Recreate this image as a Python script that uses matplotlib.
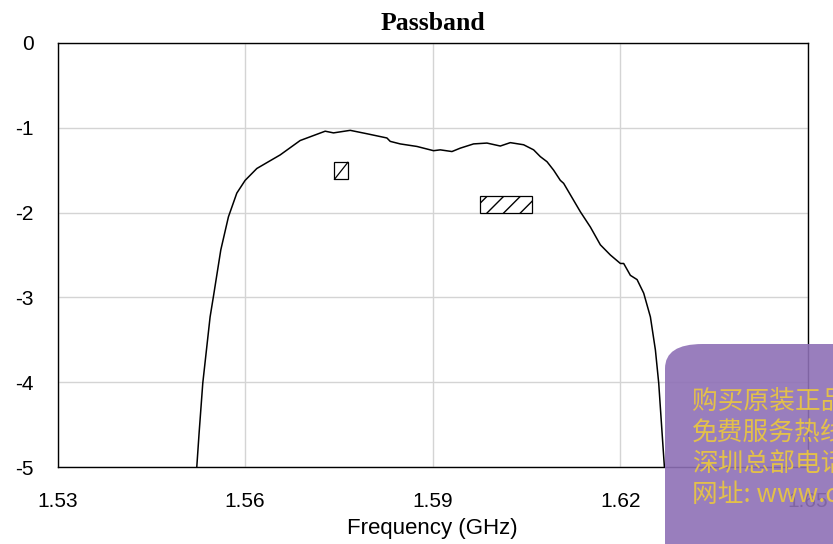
import matplotlib
matplotlib.use("Agg")
import matplotlib.pyplot as plt
from matplotlib.patches import Rectangle, FancyBboxPatch

# Measured passband response
freq_ghz = [1.55227, 1.55264, 1.55323, 1.5544, 1.55493, 1.55611, 1.55733, 1.55867,
            1.5600, 1.56187, 1.56373, 1.5656, 1.5688, 1.5728, 1.57413, 1.5768,
            1.57947, 1.58267, 1.5832, 1.5848, 1.58747, 1.59013, 1.5912, 1.59307,
            1.5944, 1.59653, 1.59867, 1.6008, 1.6024, 1.60453, 1.60613, 1.6072,
            1.60827, 1.60933, 1.6104, 1.61093, 1.6136, 1.6152, 1.6168, 1.6184,
            1.6200, 1.62053, 1.6216, 1.62267, 1.62373, 1.6248, 1.6256, 1.62613,
            1.62667, 1.62704]
insertion_db = [-5.0, -4.60, -4.01, -3.23, -2.99, -2.44, -2.05, -1.77,
                -1.62, -1.48, -1.40, -1.32, -1.15, -1.04, -1.06, -1.03,
                -1.07, -1.12, -1.16, -1.19, -1.22, -1.27, -1.26, -1.28,
                -1.24, -1.19, -1.18, -1.215, -1.175, -1.20, -1.26, -1.34,
                -1.40, -1.50, -1.62, -1.655, -1.99, -2.17, -2.38, -2.50,
                -2.60, -2.60, -2.74, -2.79, -2.95, -3.23, -3.62, -4.01,
                -4.60, -5.0]

# Specification masks (hatched boxes)
mask_f_start = [1.57429, 1.59749]
mask_f_end = [1.57643, 1.60587]
mask_db_low = [-1.607, -2.008]
mask_db_high = [-1.407, -1.808]

x_ticks = [1.53, 1.56, 1.59, 1.62, 1.65]
x_tick_labels = ['1.53', '1.56', '1.59', '1.62', '1.65']
y_ticks = [0, -1, -2, -3, -4, -5]
y_tick_labels = ['0', '-1', '-2', '-3', '-4', '-5']

watermark_lines = ['购买原装正品', '免费服务热线', '深圳总部电话', '网址: www.d']

fig = plt.figure(figsize=(8.33, 5.44), dpi=100)
ax = fig.add_axes([57.5 / 833, 1 - 467 / 544, (808 - 57.5) / 833, (467 - 43) / 544])

ax.set_xlim(1.53, 1.65)
ax.set_ylim(-5, 0)
ax.set_xticks(x_ticks)
ax.set_xticklabels(x_tick_labels)
ax.set_yticks(y_ticks)
ax.set_yticklabels(y_tick_labels)
ax.grid(True, color='#d4d4d4', linewidth=1.0)
ax.set_axisbelow(True)
ax.tick_params(length=0, labelsize=15, colors='black')
ax.tick_params(axis='x', pad=18)
ax.tick_params(axis='y', pad=17)
for lbl in ax.get_xticklabels() + ax.get_yticklabels():
    lbl.set_family('Liberation Sans')
for sp in ax.spines.values():
    sp.set_linewidth(1.0)
    sp.set_color('black')

ax.plot(freq_ghz, insertion_db, color='black', linewidth=1.1, zorder=3)

for i, (fs, fe, lo, hi) in enumerate(zip(mask_f_start, mask_f_end, mask_db_low, mask_db_high)):
    ax.add_patch(Rectangle((fs, lo), fe - fs, hi - lo, facecolor='white',
                           edgecolor='black', hatch='//' if i == 1 else None,
                           linewidth=0.9, zorder=3))
    if i == 0:
        ax.plot([fs, fe], [lo, hi], color='black', linewidth=0.9, zorder=4)

ax.set_title('Passband', family='Liberation Serif', fontweight='bold', fontsize=18.5, pad=9)
ax.set_xlabel('Frequency (GHz)', family='Liberation Sans', fontsize=16, labelpad=5)

# Watermark overlay
wm = FancyBboxPatch((665 / 833, -40 / 544), 260 / 833, 240 / 544,
                    boxstyle='round,pad=0,rounding_size=0.045',
                    transform=fig.transFigure, facecolor='#8e70b6',
                    edgecolor='none', alpha=0.9, zorder=10)
fig.patches.append(wm)
for i, line in enumerate(watermark_lines):
    fig.text(692 / 833, 1 - (402 + i * 31) / 544, line, fontsize=18.5,
             family=['Noto Sans CJK SC', 'DejaVu Sans'], color='#e3c04a',
             va='center', ha='left', zorder=11)

fig.savefig('out.png', dpi=100)
